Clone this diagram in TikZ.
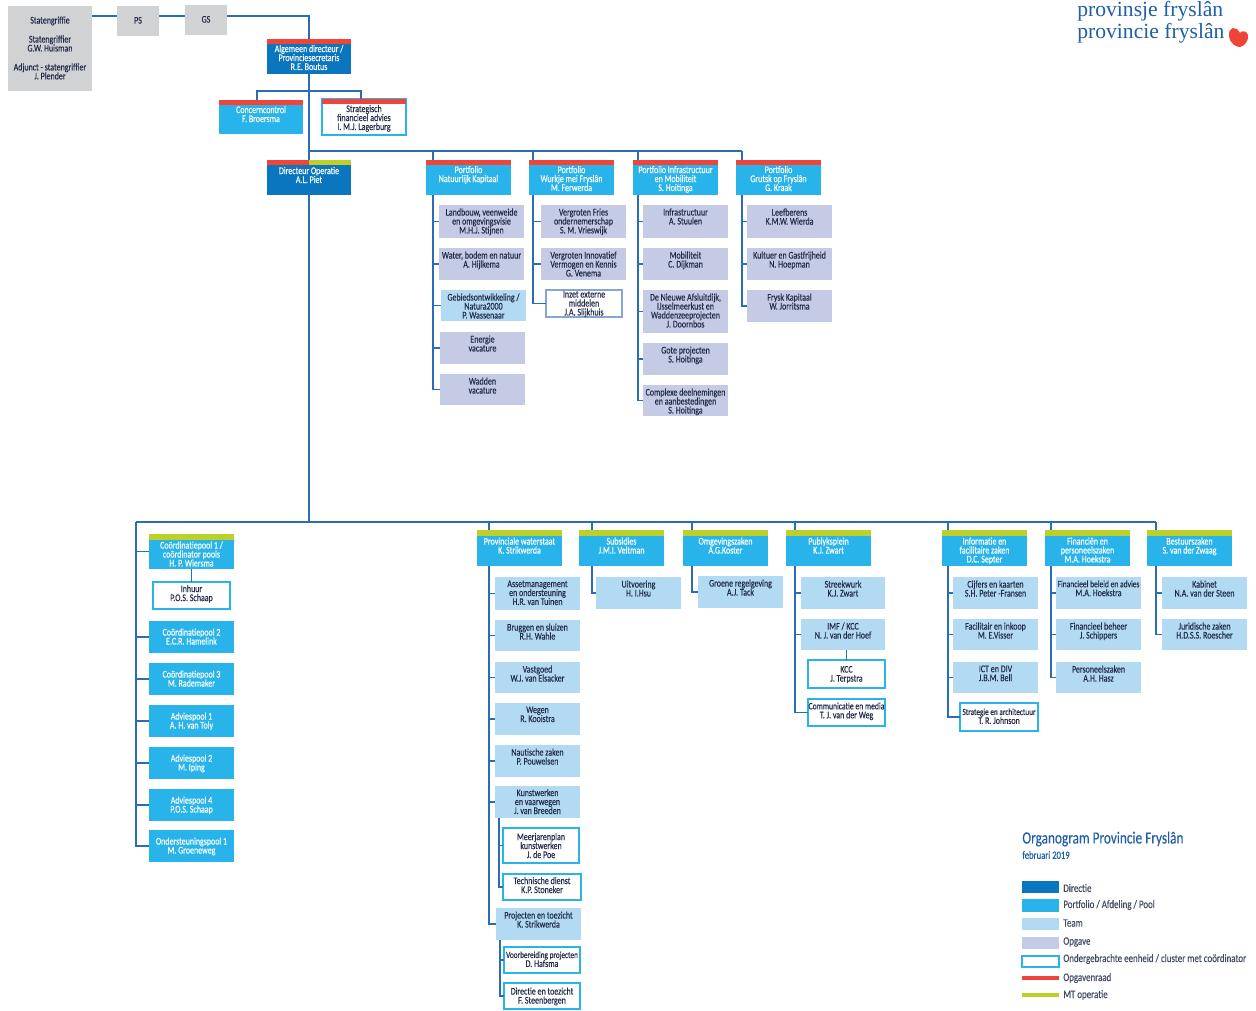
\documentclass[tikz,border=0pt]{standalone}
\usepackage{fontspec}
\setmainfont{Carlito}[FakeStretch=0.78,FakeBold=0.3]
\newfontfamily\logofont{Liberation Serif}
\usepackage{tikz}
\definecolor{lineblue}{HTML}{2A6DB5}
\definecolor{dirblue}{HTML}{0A76BF}
\definecolor{pfblue}{HTML}{28B4EA}
\definecolor{teamblue}{HTML}{B3DAF3}
\definecolor{taskblue}{HTML}{C5CBE5}
\definecolor{griffgrey}{HTML}{D1D2D4}
\definecolor{barred}{HTML}{F04438}
\definecolor{bargreen}{HTML}{BDD02A}
\definecolor{darktext}{HTML}{222C4A}
\definecolor{titleblue}{HTML}{1F5EA8}
\newlength\pxu
\setlength\pxu{0.02cm}
\newcommand{\orgfont}{\fontsize{5.8}{5.1}\selectfont}
\newcommand{\tightfont}{\fontsize{5.3}{5.1}\selectfont}
\newcommand{\orgbox}[7][]{%
	\node[#1] (#2) at (#3,#4) {\parbox[c][#6\pxu][t]{#5\pxu}{\vspace*{\toppad\pxu}\centering\orgfont #7}};
}
\tikzset{toppad/.style={/utils/exec={\def\toppad{#1}}}}
\tikzstyle{orgline} = [line width=0.7pt,draw=lineblue]
\tikzstyle{plainbox} = [rectangle,inner sep=0pt,outer sep=0pt,anchor=north west,text=darktext,toppad=3.5]
\tikzstyle{greybox} = [plainbox,fill=griffgrey,toppad=11]
\tikzstyle{dirbox} = [plainbox,fill=dirblue,text=white]
\tikzstyle{pfbox} = [plainbox,fill=pfblue,text=white]
\tikzstyle{teambox} = [plainbox,fill=teamblue]
\tikzstyle{taskbox} = [plainbox,fill=taskblue]
\tikzstyle{unitbox} = [plainbox,fill=white,draw=pfblue,line width=0.6pt,toppad=3]
\tikzstyle{redtop} = [toppad=6,path picture={\fill[barred] (path picture bounding box.north west) rectangle ([yshift=-0.1cm]path picture bounding box.north east);}]
\tikzstyle{greentop} = [toppad=7.5,path picture={\fill[bargreen] (path picture bounding box.north west) rectangle ([yshift=-0.11cm]path picture bounding box.north east);}]
\tikzstyle{bothtop} = [toppad=7,path picture={\fill[barred] (path picture bounding box.north west) rectangle ([yshift=-0.1cm]path picture bounding box.north);\fill[bargreen] (path picture bounding box.north) rectangle ([yshift=-0.1cm]path picture bounding box.north east);}]
\tikzstyle{swatch} = [rectangle,inner sep=0pt,outer sep=0pt,minimum width=0.74cm,minimum height=0.25cm]
\tikzstyle{swatchline} = [swatch,minimum height=0.08cm]
\tikzstyle{legendtext} = [inner sep=0pt,anchor=west,text=darktext!85,font={\fontsize{6.5}{8}\selectfont}]
\begin{document}
\begin{tikzpicture}[x=0.02cm,y=-0.02cm]
	\useasboundingbox (0,0) rectangle (1256,1010);

	% logo
	\node[anchor=base west,inner sep=0pt,text=titleblue,font={\logofont\fontsize{12.3}{14}\selectfont}] (logofy) at (1077,17) {provinsje fryslân};
	\node[anchor=base west,inner sep=0pt,text=titleblue,font={\logofont\fontsize{12.3}{14}\selectfont}] (logonl) at (1077,38.5) {provincie fryslân};
	\fill[barred] (1240,33) .. controls (1236,25) and (1228,27) .. (1229,36) .. controls (1230,44) and (1236,47) .. (1240,47) .. controls (1245,46) and (1249,40) .. (1248,35) .. controls (1247,31) and (1242,30) .. (1240,33) -- cycle;

	% top
	\orgbox[greybox,toppad=10.5]{griffie}{8}{6}{84}{85}{Statengriffie\\[10\pxu]Statengriffier\\G.W. Huisman\\[10\pxu]Adjunct - statengriffier\\J. Plender}
	\orgbox[greybox]{ps}{117}{6}{42}{30}{PS}
	\orgbox[greybox]{gs}{185}{5}{42}{30}{GS}
	\orgbox[dirbox,redtop]{ad}{267}{39}{84}{35}{Algemeen directeur /\\Provinciesecretaris\\R.E. Boutus}
	\orgbox[pfbox,redtop]{cc}{219}{100}{84}{34}{Concerncontrol\\F. Broersma}
	\orgbox[unitbox,toppad=6]{strat}{322}{99}{84}{36}{Strategisch\\financieel advies\\I. M.J. Lagerburg}
	\fill[barred] (strat.north west) rectangle ([yshift=-0.11cm]strat.north east);
	\orgbox[dirbox,bothtop]{do}{267}{160}{84}{35}{Directeur Operatie\\A.L. Piet}

	% portfolios
	\orgbox[pfbox,redtop]{pnk}{426}{160}{85}{35}{Portfolio\\Natuurlijk Kapitaal}
	\orgbox[pfbox,redtop]{pwf}{529}{160}{85}{35}{Portfolio\\Wurkje mei Fryslân\\M. Ferwerda}
	\orgbox[pfbox,redtop]{pim}{633}{160}{85}{35}{Portfolio Infrastructuur\\en Mobiliteit\\S. Hoitinga}
	\orgbox[pfbox,redtop]{pgf}{736}{160}{85}{35}{Portfolio\\Grutsk op Fryslân\\G. Kraak}

	\orgbox[taskbox]{nk1}{439}{205}{85}{33}{Landbouw, veenweide\\en omgevingsvisie\\M.H.J. Stijnen}
	\orgbox[taskbox]{nk2}{439}{248}{85}{32}{Water, bodem en natuur\\A. Hijlkema}
	\orgbox[teambox]{nk3}{441}{290}{85}{31}{Gebiedsontwikkeling /\\Natura2000\\P. Wassenaar}
	\orgbox[taskbox]{nk4}{440}{332}{85}{32}{Energie\\vacature}
	\orgbox[taskbox]{nk5}{440}{374}{85}{31}{Wadden\\vacature}

	\orgbox[taskbox]{wf1}{541}{205}{85}{33}{Vergroten Fries\\ondernemerschap\\S. M. Vrieswijk}
	\orgbox[taskbox]{wf2}{541}{248}{85}{32}{Vergroten Innovatief\\Vermogen en Kennis\\G. Venema}
	\orgbox[unitbox,draw=taskblue!60!lineblue,toppad=1]{wf3}{546}{290}{76}{27}{Inzet externe\\middelen\\J.A. Slijkhuis}

	\orgbox[taskbox]{im1}{643}{205}{85}{33}{Infrastructuur\\A. Stuulen}
	\orgbox[taskbox]{im2}{643}{248}{85}{32}{Mobiliteit\\C. Dijkman}
	\orgbox[taskbox]{im3}{643}{290}{85}{43}{De Nieuwe Afsluitdijk,\\IJsselmeerkust en\\Waddenzeeprojecten\\J. Doornbos}
	\orgbox[taskbox]{im4}{643}{343}{85}{32}{Gote projecten\\S. Hoitinga}
	\orgbox[taskbox]{im5}{643}{385}{85}{31}{Complexe deelnemingen\\en aanbestedingen\\S. Hoitinga}

	\orgbox[taskbox]{gf1}{747}{205}{85}{33}{Leefberens\\K.M.W. Wierda}
	\orgbox[taskbox]{gf2}{747}{248}{85}{32}{Kultuer en Gastfrijheid\\N. Hoepman}
	\orgbox[taskbox]{gf3}{747}{290}{85}{32}{Frysk Kapitaal\\W. Jorritsma}

	% pools
	\orgbox[pfbox,greentop]{pool1}{149}{534}{85}{35}{Coördinatiepool 1 /\\coördinator pools\\H. P. Wiersma}
	\orgbox[unitbox]{inhuur}{153}{582}{77}{27}{Inhuur\\P.O.S. Schaap}
	\foreach \n/\y/\t in {pool2/621/{Coördinatiepool 2\\E.C.R. Hamelink},pool3/663/{Coördinatiepool 3\\M. Rademaker},pool4/705/{Adviespool 1\\A. H. van Toly},pool5/747/{Adviespool 2\\M. Iping},pool6/789/{Adviespool 4\\P.O.S. Schaap},pool7/830/{Ondersteuningspool 1\\M. Groeneweg}} {
		\orgbox[pfbox,toppad=7.5]{\n}{149}{\y}{85}{32}{\t}
	}

	% afdelingen
	\orgbox[pfbox,greentop]{pw}{477}{530}{85}{36}{Provinciale waterstaat\\K. Strikwerda}
	\orgbox[pfbox,greentop]{sub}{579}{530}{85}{36}{Subsidies\\J.M.I. Veltman}
	\orgbox[pfbox,greentop]{omg}{683}{530}{85}{36}{Omgevingszaken\\A.G.Koster}
	\orgbox[pfbox,greentop]{pub}{786}{530}{85}{36}{Publyksplein\\K.J. Zwart}
	\orgbox[pfbox,greentop]{inf}{942}{530}{85}{36}{Informatie en\\facilitaire zaken\\D.C. Septer}
	\orgbox[pfbox,greentop]{fin}{1045}{530}{85}{36}{Financiën en\\personeelszaken\\M.A. Hoekstra}
	\orgbox[pfbox,greentop]{bes}{1147}{530}{85}{36}{Bestuurszaken\\S. van der Zwaag}

	\orgbox[teambox]{pw1}{495}{577}{85}{33}{Assetmanagement\\en ondersteuning\\H.R. van Tuinen}
	\orgbox[teambox]{pw2}{495}{620}{85}{31}{Bruggen en sluizen\\R.H. Wahle}
	\orgbox[teambox]{pw3}{495}{662}{85}{31}{Vastgoed\\W.J. van Elsacker}
	\orgbox[teambox]{pw4}{495}{703}{85}{32}{Wegen\\R. Kooistra}
	\orgbox[teambox]{pw5}{495}{745}{85}{32}{Nautische zaken\\P. Pouwelsen}
	\orgbox[teambox,toppad=3]{pw6}{495}{786}{85}{32}{Kunstwerken\\en vaarwegen\\J. van Breeden}
	\orgbox[unitbox,toppad=5]{pw61}{503}{828}{76}{35}{Meerjarenplan\\kunstwerken\\J. de Poe}
	\orgbox[unitbox,toppad=3]{pw62}{503}{874}{78}{26}{Technische dienst\\K.P. Stoneker}
	\orgbox[teambox]{pw7}{496}{908}{85}{32}{Projecten en toezicht\\K. Strikwerda}
	\orgbox[unitbox,toppad=4.5]{pw71}{504}{947}{76}{26}{\makebox[\linewidth]{\tightfont Voorbereiding projecten}\\D. Hafsma}
	\orgbox[unitbox,toppad=4.5]{pw72}{504}{983}{76}{26}{Directie en toezicht\\F. Steenbergen}

	\orgbox[teambox]{sub1}{596}{577}{85}{32}{Uitvoering\\H. I.Hsu}
	\orgbox[teambox]{omg1}{698}{576}{85}{32}{Groene regelgeving\\A.J. Tack}

	\orgbox[teambox]{pub1}{801}{577}{84}{32}{Streekwurk\\K.J. Zwart}
	\orgbox[teambox]{pub2}{801}{619}{84}{31}{IMF / KCC\\N. J. van der Hoef}
	\orgbox[unitbox,toppad=6]{pub3}{808}{660}{77}{28}{KCC\\J. Terpstra}
	\orgbox[unitbox,toppad=3.5]{pub4}{808}{699}{77}{27}{\makebox[\linewidth]{\fontsize{5.6}{5.1}\selectfont Communicatie en media}\\T. J. van der Weg}

	\orgbox[teambox]{inf1}{953}{577}{85}{32}{Cijfers en kaarten\\S.H. Peter -Fransen}
	\orgbox[teambox]{inf2}{953}{619}{85}{31}{Facilitair en inkoop\\M. E.Visser}
	\orgbox[teambox]{inf3}{953}{662}{85}{31}{ICT en DIV\\J.B.M. Bell}
	\orgbox[unitbox,toppad=5.5]{inf4}{960}{703}{78}{28}{\makebox[\linewidth]{\tightfont Strategie en architectuur}\\T. R. Johnson}

	\orgbox[teambox]{fin1}{1056}{577}{85}{32}{\makebox[\linewidth]{\fontsize{5.5}{5.1}\selectfont Financieel beleid en advies}\\M.A. Hoekstra}
	\orgbox[teambox]{fin2}{1056}{619}{85}{31}{Financieel beheer\\J. Schippers}
	\orgbox[teambox]{fin3}{1056}{662}{85}{31}{Personeelszaken\\A.H. Hasz}

	\orgbox[teambox]{bes1}{1162}{577}{85}{32}{Kabinet\\N.A. van der Steen}
	\orgbox[teambox]{bes2}{1162}{619}{85}{31}{Juridische zaken\\H.D.S.S. Roescher}

	% connectors
	\coordinate (topline) at (0,16);
	\draw[orgline] (topline -| griffie.east) -- (topline -| ps.west);
	\draw[orgline] (topline -| ps.east) -- (topline -| gs.west);
	\draw[orgline] (topline -| gs.east) -| (ad.north);
	\draw[orgline] (ad.south) -- (do.north);
	\coordinate (staffl) at (257,91);
	\coordinate (staffr) at (361,91);
	\draw[orgline] (staffl |- cc.north) -- (staffl) -- (staffr) -- (staffr |- strat.north);

	\coordinate (busb) at (309,522);
	\draw[orgline] (do.south) -- (busb);
	\coordinate (busal) at (309,151);
	\coordinate (busar) at (742,151);
	\draw[orgline] (busal) -- (busar);
	\coordinate (busbl) at (136,522);
	\coordinate (busbr) at (1156,522);
	\draw[orgline] (busbl) -- (busbr);

	\foreach \p/\x/\y in {pnk/433/151,pwf/533/151,pim/638/151,pgf/742/151,pw/489/522,sub/592/522,omg/692/522,pub/795/522,inf/948/522,fin/1051/522,bes/1156/522} {
		\coordinate (t\p) at (\x,\y);
		\draw[orgline] (t\p) -- (t\p |- \p.north);
	}
	\foreach \p/\c in {pnk/nk1,pnk/nk2,pnk/nk3,pnk/nk4,pnk/nk5,pwf/wf1,pwf/wf2,pwf/wf3,pim/im1,pim/im2,pim/im3,pim/im4,pim/im5,pgf/gf1,pgf/gf2,pgf/gf3,pw/pw1,pw/pw2,pw/pw3,pw/pw4,pw/pw5,pw/pw6,pw/pw7,sub/sub1,omg/omg1,pub/pub1,pub/pub2,pub/pub4,inf/inf1,inf/inf2,inf/inf3,inf/inf4,fin/fin1,fin/fin2,fin/fin3,bes/bes1,bes/bes2} {
		\draw[orgline] (t\p |- \p.south) |- (\c.west);
	}
	\foreach \c in {pool1,pool2,pool3,pool4,pool5,pool6,pool7} {
		\draw[orgline] (busbl) |- (\c.west);
	}
	\draw[orgline] (pool1.south) -- (inhuur.north);
	\draw[orgline] (pub2.south -| pub3.north) -- (pub3.north);
	\foreach \p/\c in {pw6/pw61,pw6/pw62,pw7/pw71,pw7/pw72} {
		\draw[orgline] ([xshift=0.08cm]\p.south west) |- (\c.west);
	}

	% legend
	\node[anchor=west,inner sep=0pt,text=titleblue,font={\fontsize{9.7}{11}\selectfont}] (legtitle) at (1022,839) {Organogram Provincie Fryslân};
	\node[anchor=west,inner sep=0pt,text=titleblue,font={\fontsize{6.3}{8}\selectfont}] (legdate) at (1022,855) {februari 2019};
	\node[swatch,fill=dirblue] (sw1) at (1040.5,887) {};
	\node[swatch,fill=pfblue] (sw2) at (1040.5,905.5) {};
	\node[swatch,fill=teamblue] (sw3) at (1040.5,924) {};
	\node[swatch,fill=taskblue] (sw4) at (1040.5,943) {};
	\node[swatch,fill=white,draw=pfblue,line width=0.6pt,minimum height=0.22cm] (sw5) at (1040.5,961.5) {};
	\node[swatchline,fill=barred] (sw6) at (1040.5,978) {};
	\node[swatchline,fill=bargreen] (sw7) at (1040.5,995) {};
	\foreach \n/\y/\t in {1/888/Directie,2/905/{Portfolio / Afdeling / Pool},3/923/Team,4/942/Opgave,5/959/{Ondergebrachte eenheid / cluster met coördinator},6/978/Opgavenraad,7/995/MT operatie} {
		\node[legendtext] (leg\n) at (1063,\y) {\t};
	}
\end{tikzpicture}
\end{document}
